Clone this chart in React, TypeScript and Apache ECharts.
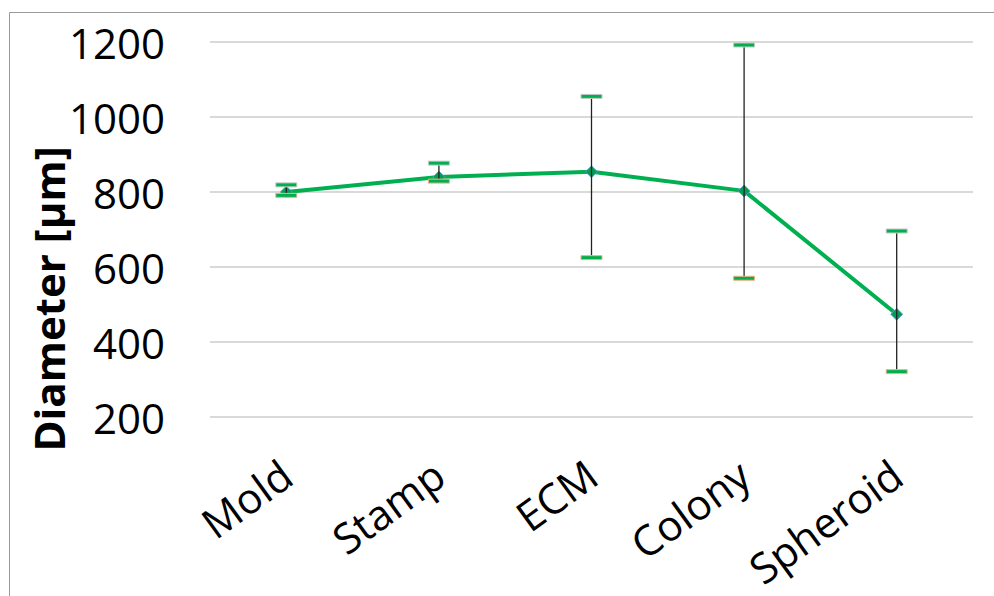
import React, { useEffect, useRef } from "react";
import * as echarts from "echarts";

const categories = ["Mold", "Stamp", "ECM", "Colony", "Spheroid"];
const means = [800, 840, 854, 803, 474];
const upper = [819, 877, 1055, 1192, 696];
const lower = [791, 829, 625, 570, 321];
const yTicks = { min: 200, max: 1200, interval: 200 };

const FONT = "'Open Sans', 'Liberation Sans', sans-serif";

export default function App() {
  const ref = useRef<HTMLDivElement>(null);
  useEffect(() => {
    if (!ref.current) return;
    const chart = echarts.init(ref.current, undefined, { renderer: "svg" });
    const errData = categories.map((c, i) => [i, lower[i], upper[i]]);
    chart.setOption({
      animation: false,
      backgroundColor: "#ffffff",
      grid: { left: 210, top: 42, width: 763, height: 375 },
      xAxis: {
        type: "category",
        data: categories,
        boundaryGap: true,
        axisLine: { show: false },
        axisTick: { show: false },
        axisLabel: {
          rotate: 36,
          margin: 52,
          fontSize: 42,
          color: "#000",
          fontFamily: FONT,
          interval: 0,
        },
      },
      yAxis: {
        type: "value",
        min: yTicks.min,
        max: yTicks.max,
        interval: yTicks.interval,
        axisLine: { show: false },
        axisTick: { show: false },
        splitLine: { lineStyle: { color: "#d9d9d9", width: 2 } },
        axisLabel: {
          fontSize: 42,
          color: "#000",
          fontFamily: FONT,
          margin: 45,
          formatter: (v: number) => String(v),
        },
      },
      series: [
        {
          type: "line",
          data: means,
          symbol: "diamond",
          symbolSize: 12,
          lineStyle: { color: "#00B050", width: 4 },
          itemStyle: { color: "#00A050", borderColor: "#5B9BD5", borderWidth: 0.8 },
          z: 2,
        },
        {
          type: "custom",
          data: errData,
          z: 5,
          renderItem: (params: any, api: any) => {
            const x = api.coord([api.value(0), api.value(1)])[0];
            const yl = api.coord([api.value(0), api.value(1)])[1];
            const yh = api.coord([api.value(0), api.value(2)])[1];
            const hw = 10.5;
            return {
              type: "group",
              children: [
                {
                  type: "line",
                  shape: { x1: x, y1: yh, x2: x, y2: yl },
                  style: { stroke: "#222", lineWidth: 1.3 },
                },
                {
                  type: "rect",
                  shape: { x: x - hw, y: yh - 2, width: hw * 2, height: 4 },
                  style: { fill: "#00B050", stroke: "#c8c8c8", lineWidth: 1 },
                },
                {
                  type: "rect",
                  shape: { x: x - hw, y: yl - 2, width: hw * 2, height: 4 },
                  style: { fill: "#00B050", stroke: "#F4B183", lineWidth: 1 },
                },
              ],
            };
          },
        },
      ],
      graphic: [
        {
          type: "rect",
          shape: { x: 9.5, y: 12.5, width: 1100, height: 700 },
          style: { fill: "none", stroke: "#9a9a9a", lineWidth: 1 },
          silent: true,
        },
        {
          type: "text",
          x: 48,
          y: 299,
          rotation: Math.PI / 2,
          style: {
            text: "Diameter [µm]",
            font: `bold 42px ${FONT}`,
            fill: "#000",
            textAlign: "center",
            textVerticalAlign: "middle",
          },
        },
      ],
    });
    return () => chart.dispose();
  }, []);
  return (
    <div
      ref={ref}
      style={{ position: "absolute", left: 0, top: 0, width: 994, height: 596 }}
    />
  );
}
